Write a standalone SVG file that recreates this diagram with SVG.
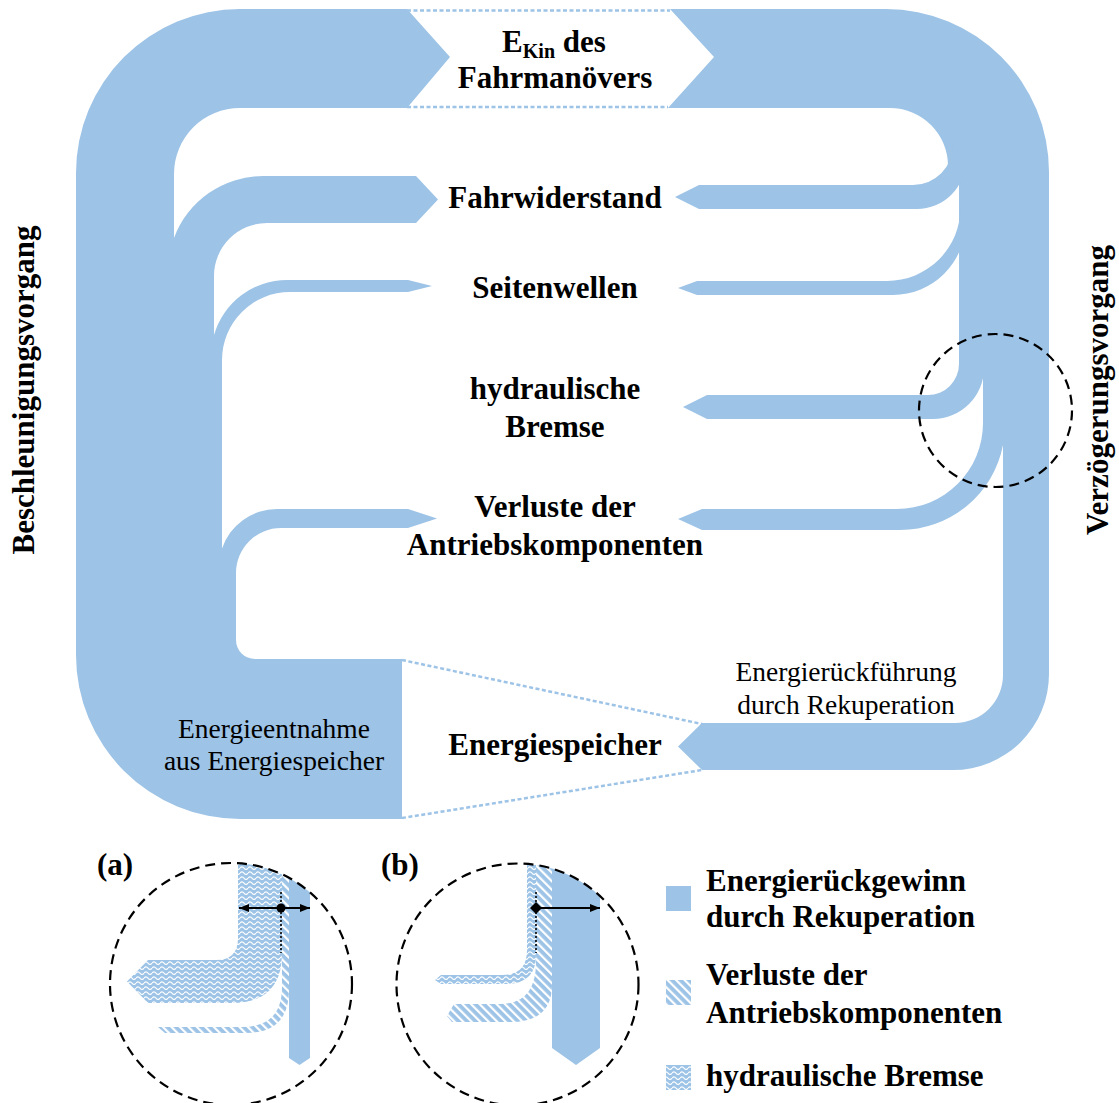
<svg xmlns="http://www.w3.org/2000/svg" width="1119" height="1103" viewBox="0 0 1119 1103">
  <style>
    .band { fill: #9dc3e6; }
    .hatch { fill: url(#hatch); }
    .wave { fill: url(#wave); }
    .lbl { font-family: "Liberation Serif", "Times New Roman", serif; font-weight: bold; font-size: 31px; fill: #000; text-anchor: middle; }
    .lgd { font-family: "Liberation Serif", "Times New Roman", serif; font-weight: bold; font-size: 31px; fill: #000; }
    .note { font-family: "Liberation Serif", "Times New Roman", serif; font-size: 27.5px; fill: #000; text-anchor: middle; }
    .dots { fill: none; stroke: #9dc3e6; stroke-width: 2.5; stroke-dasharray: 4 2.5; }
    .ring { fill: none; stroke: #000; stroke-width: 2.2; stroke-dasharray: 10 6; }
    .dim { fill: none; stroke: #000; stroke-width: 2; }
    .guide { fill: none; stroke: #000; stroke-width: 1.6; stroke-dasharray: 2 2; }
  </style>
  <defs>
    <pattern id="hatch" width="6" height="6" patternUnits="userSpaceOnUse" patternTransform="rotate(-45)">
      <rect width="6" height="6" fill="#9dc3e6"/>
      <rect width="2.2" height="6" fill="#fff"/>
    </pattern>
    <pattern id="wave" width="8" height="5" patternUnits="userSpaceOnUse">
      <rect width="8" height="5" fill="#9dc3e6"/>
      <path d="M0,3.2 Q2,0.6 4,3.2 T8,3.2" fill="none" stroke="#fff" stroke-width="1.1"/>
    </pattern>
    <marker id="ah" viewBox="0 0 10 8" refX="10" refY="4" markerWidth="5" markerHeight="4" orient="auto-start-reverse">
      <path d="M0,0 L10,4 L0,8 Z" fill="#000"/>
    </marker>
    <clipPath id="clipA"><circle cx="231" cy="984" r="121"/></clipPath>
    <clipPath id="clipB"><circle cx="517.5" cy="984.5" r="121"/></clipPath>
  </defs>

  <rect width="1119" height="1103" fill="#fff"/>

  <!-- energy flow bands -->
  <g id="flows">
    <!-- acceleration: kinetic energy taken from the storage and split into losses -->
    <path id="flow-accel" class="band" d="M407,9 L450,57 L407,108 L240,108 A66,66 0 0 0 174,174 L174,290 L214,290 L214,370 L222,370 L222,580 L236,580 L236,640 A19,19 0 0 0 255,659 L402,659 L402,819 L240,819 A164,164 0 0 1 76,655 L76,173 A164,164 0 0 1 240,9 Z"/>
    <path id="flow-accel-fahr" class="band" d="M416,176 L263,176 A95,95 0 0 0 174,238 L174,300 L214,300 L214,276 A53,53 0 0 1 267,223 L416,223 L438,199.5 Z"/>
    <path id="flow-accel-welle" class="band" d="M408,280 L287,280 A76,76 0 0 0 214,335 L214,380 L222,380 L222,360 A68,68 0 0 1 290,292 L408,292 L432,286 Z"/>
    <path id="flow-accel-verl" class="band" d="M408,509 L277,509 A58,58 0 0 0 222,548.6 L222,590 L236,590 L236,573 A45,45 0 0 1 281,528 L408,528 L437,518.5 Z"/>

    <!-- deceleration: kinetic energy split into losses and recuperation -->
    <path id="flow-decel" class="band" d="M670,9 L886,9 A163,163 0 0 1 1049,172 L1049,674 A96,96 0 0 1 953,770 L702,770 L678,746.5 L702,723 L955,723 A48,48 0 0 0 1003,675 L1003,364 L959,364 L959,170 L948,166 A58,58 0 0 0 890,108 L668,108 L714,57 Z"/>
    <path id="flow-decel-fahr" class="band" d="M675,197 L699,185 L913,185 A40,40 0 0 0 953,145 L965.6,160.4 A48.6,48.6 0 0 1 917,209 L699,209 Z"/>
    <path id="flow-decel-welle" class="band" d="M678,288 L697,281 L887,281 A73.5,73.5 0 0 0 960.5,207.5 L965.4,222.6 A72.4,72.4 0 0 1 893,295 L697,295 Z"/>
    <path id="flow-decel-bremse" class="band" d="M683,407 L707,395 L928,395 A31,31 0 0 0 959,364 L959,355 L984,355 L984,368 A51,51 0 0 1 933,419 L707,419 Z"/>
    <path id="flow-decel-verl" class="band" d="M678,519 L702,509 L897,509 A86,86 0 0 0 983,423 L983,360 L1003,360 L1003,445 A105,105 0 0 1 900,530 L702,530 Z"/>

    <!-- dotted outlines of the node boxes -->
    <line class="dots" x1="407" y1="10.5" x2="670" y2="10.5"/>
    <line class="dots" x1="407" y1="107" x2="668" y2="107"/>
    <line class="dots" x1="402" y1="660" x2="702" y2="724"/>
    <line class="dots" x1="402" y1="818" x2="702" y2="770"/>

    <!-- detail marker at the brake junction -->
    <circle class="ring" cx="995.5" cy="410.5" r="76.5"/>
  </g>

  <!-- nodes -->
  <g id="node-ekin">
    <text class="lbl" x="554" y="52">E<tspan font-size="20" dy="6">Kin</tspan><tspan dy="-6"> des</tspan></text>
    <text class="lbl" x="555" y="88">Fahrmanövers</text>
  </g>
  <g id="node-fahrwiderstand">
    <text class="lbl" x="555" y="208">Fahrwiderstand</text>
  </g>
  <g id="node-seitenwellen">
    <text class="lbl" x="555" y="298">Seitenwellen</text>
  </g>
  <g id="node-bremse">
    <text class="lbl" x="555" y="399">hydraulische</text>
    <text class="lbl" x="555" y="437">Bremse</text>
  </g>
  <g id="node-verluste">
    <text class="lbl" x="555" y="517">Verluste der</text>
    <text class="lbl" x="555" y="555">Antriebskomponenten</text>
  </g>
  <g id="node-speicher">
    <text class="lbl" x="555" y="755">Energiespeicher</text>
  </g>
  <g id="label-entnahme">
    <text class="note" x="274" y="738">Energieentnahme</text>
    <text class="note" x="274" y="770">aus Energiespeicher</text>
  </g>
  <g id="label-rueckfuehrung">
    <text class="note" x="846" y="681">Energierückführung</text>
    <text class="note" x="846" y="714">durch Rekuperation</text>
  </g>
  <g id="label-phases">
    <text class="lbl" transform="translate(33.5,390) rotate(-90)">Beschleunigungsvorgang</text>
    <text class="lbl" transform="translate(1108,390) rotate(-90)">Verzögerungsvorgang</text>
  </g>

  <!-- detail (a): brake-dominated split -->
  <g id="detail-a">
    <text class="lgd" x="97" y="875">(a)</text>
    <g clip-path="url(#clipA)">
      <path class="wave" d="M238,850 L238,938 Q238,960 216,960 L148,960 L127,981.5 L148,1003 L232,1003 Q282,1003 282,953 L282,850 Z"/>
      <path class="hatch" d="M158,1027 L242,1027 Q282,1027 282,987 L282,850 L289,850 L289,990 Q289,1033 246,1033 L165,1033 Z"/>
      <path class="band" d="M289,850 L310,850 L310,1058 L299.5,1065 L289,1058 Z"/>
    </g>
    <circle class="ring" cx="231" cy="984" r="121"/>
    <line class="guide" x1="281" y1="892" x2="281" y2="953"/>
    <line class="dim" x1="239" y1="908" x2="310" y2="908" marker-start="url(#ah)" marker-end="url(#ah)"/>
    <circle cx="281" cy="908" r="4.5" fill="#000"/>
  </g>

  <!-- detail (b): recuperation-dominated split -->
  <g id="detail-b">
    <text class="lgd" x="381" y="875">(b)</text>
    <g clip-path="url(#clipB)">
      <path class="wave" d="M527,850 L527,950 Q527,975 502,975 L441,975 L435,980 L441,984 L506,984 Q536,984 536,955 L536,850 Z"/>
      <path class="hatch" d="M536,850 L536,962 Q536,1004 500,1004 L454,1004 L447,1016 L452,1022 L510,1022 Q552,1022 552,985 L552,850 Z"/>
      <path class="band" d="M552,850 L600,850 L600,1048 L576,1065 L552,1048 Z"/>
    </g>
    <circle class="ring" cx="517.5" cy="984.5" r="121"/>
    <line class="guide" x1="536" y1="892" x2="536" y2="953"/>
    <line class="dim" x1="536" y1="908" x2="600" y2="908" marker-end="url(#ah)"/>
    <path d="M536,902 L542,908 L536,914 L530,908 Z" fill="#000"/>
  </g>

  <!-- legend -->
  <g id="legend">
    <rect class="band" x="666" y="886" width="25" height="25"/>
    <text class="lgd" x="706" y="891">Energierückgewinn</text>
    <text class="lgd" x="706" y="927">durch Rekuperation</text>
    <rect class="hatch" x="666" y="980" width="25" height="25"/>
    <text class="lgd" x="706" y="985">Verluste der</text>
    <text class="lgd" x="706" y="1023">Antriebskomponenten</text>
    <rect class="wave" x="666" y="1065" width="25" height="25"/>
    <text class="lgd" x="706" y="1086">hydraulische Bremse</text>
  </g>
</svg>
